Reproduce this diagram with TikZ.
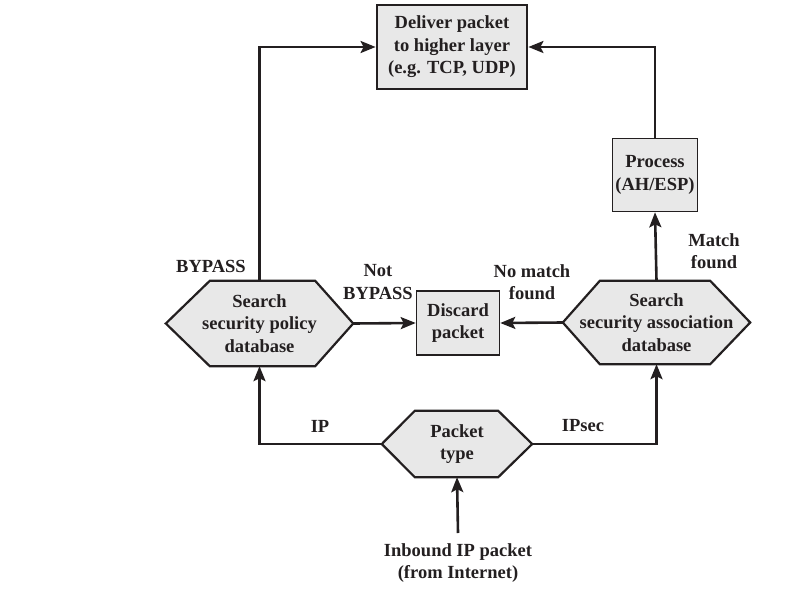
\documentclass[tikz,border=0pt]{standalone}
\usepackage{fontspec}
\setmainfont{Liberation Serif}
\usetikzlibrary{arrows.meta,backgrounds}
\definecolor{boxfill}{HTML}{E8E8E8}
\definecolor{ink}{HTML}{231F20}
\tikzset{
  txt/.style={font=\bfseries\fontsize{18.5}{22.5}\selectfont, text=ink, align=center, inner sep=0pt},
  boxnode/.style={txt, draw=ink, fill=boxfill, line width=1.6pt},
  hexnode/.style={txt},
  hexline/.style={draw=ink, fill=boxfill, line width=2.2pt, line join=miter},
  conn/.style={draw=ink, line width=2.6pt, -{Stealth[length=15pt,width=12pt,inset=3pt]}},
  lbl/.style={txt}
}
\begin{document}
\begin{tikzpicture}[x=1pt,y=-1pt]
\useasboundingbox (0,0) rectangle (791,596);
% boxes
\node[boxnode, line width=2.8pt, minimum width=150pt, minimum height=84pt] (deliver) at (452,47) {Deliver packet\\to higher layer\\(e.g. TCP, UDP)};
\node[boxnode, minimum width=85pt, minimum height=73pt] (process) at (655,175) {Process\\(AH/ESP)};
\node[boxnode, minimum width=83pt, minimum height=64pt] (discard) at (458,323) {Discard\\packet};
% hexagons
\node[hexnode, minimum width=187pt, minimum height=85pt] (spd) at (259.5,323.5) {Search\\security policy\\database};
\node[hexnode, minimum width=187pt, minimum height=83pt] (sad) at (656.5,322.5) {Search\\security association\\database};
\node[hexnode, minimum width=150pt, minimum height=66pt] (ptype) at (457,444) {Packet\\type};
\node[lbl] (inbound) at (458,563) {Inbound IP packet\\(from Internet)};
\coordinate (instart) at (458,533);
\begin{pgfonlayer}{background}
\path[hexline] (spd.west) -- ([xshift=44pt]spd.north west) -- ([xshift=-38pt]spd.north east) -- (spd.east) -- ([xshift=-38pt]spd.south east) -- ([xshift=44pt]spd.south west) -- cycle;
\path[hexline] (sad.west) -- ([xshift=37pt]sad.north west) -- ([xshift=-40pt]sad.north east) -- (sad.east) -- ([xshift=-40pt]sad.south east) -- ([xshift=37pt]sad.south west) -- cycle;
\path[hexline] (ptype.west) -- ([xshift=33pt]ptype.north west) -- ([xshift=-34pt]ptype.north east) -- (ptype.east) -- ([xshift=-34pt]ptype.south east) -- ([xshift=33pt]ptype.south west) -- cycle;
\end{pgfonlayer}
% connectors
\draw[conn] (instart) -- (ptype.south);
\draw[conn] (ptype.west) -| (spd.south);
\draw[conn] (ptype.east) -| (sad.south);
\draw[conn] (spd.north) |- (deliver.west);
\draw[conn] (sad.north) -- (process.south);
\draw[conn] (process.north) |- (deliver.east);
\draw[conn] (spd.east) -- (discard.west);
\draw[conn] (sad.west) -- (discard.east);
% labels
\node[lbl] (lbypass) at (211,266) {BYPASS};
\node[lbl] (lnot) at (378,282) {Not\\BYPASS};
\node[lbl] (lnomatch) at (532,282) {No match\\found};
\node[lbl] (lmatch) at (714,251) {Match\\found};
\node[lbl] (lip) at (320,426) {IP};
\node[lbl] (lipsec) at (583,426) {IPsec};
\end{tikzpicture}
\end{document}
